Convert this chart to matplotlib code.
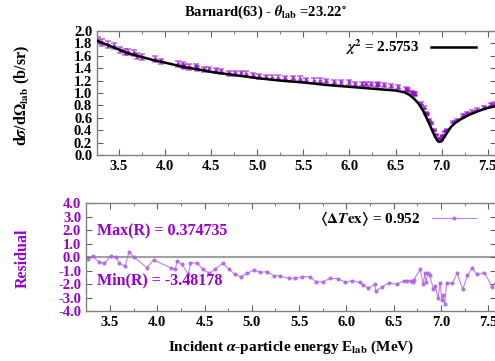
import matplotlib
matplotlib.use('Agg')
import matplotlib.pyplot as plt
from matplotlib.ticker import MultipleLocator

plt.rcParams['font.family'] = ['Liberation Serif', 'DejaVu Serif']
plt.rcParams['font.weight'] = 'bold'
plt.rcParams['mathtext.fontset'] = 'stix'

# fit curve (black line)
fit_e = [3.25, 3.4, 3.5, 3.6, 3.75, 3.9, 4.0, 4.2, 4.4, 4.5, 4.75, 5.0, 5.25, 5.5,
         5.75, 6.0, 6.25, 6.5, 6.6, 6.65, 6.7, 6.75, 6.8, 6.85, 6.9, 6.93, 6.96,
         6.98, 7.0, 7.03, 7.06, 7.1, 7.15, 7.2, 7.3, 7.4, 7.5, 7.6]
fit_xs = [1.85, 1.76, 1.70, 1.64, 1.58, 1.52, 1.49, 1.42, 1.37, 1.34, 1.29, 1.24, 1.20, 1.17,
          1.13, 1.10, 1.07, 1.04, 1.01, 0.97, 0.91, 0.83, 0.71, 0.56, 0.39, 0.29, 0.22,
          0.21, 0.23, 0.29, 0.36, 0.45, 0.52, 0.57, 0.65, 0.71, 0.76, 0.79]

# measured points
energy = [3.27, 3.32, 3.38, 3.44, 3.51, 3.56, 3.60, 3.66, 3.70, 3.75, 3.89, 3.96, 4.14, 4.19,
          4.21, 4.26, 4.33, 4.35, 4.42, 4.48, 4.55, 4.61, 4.69, 4.76, 4.82, 4.88, 4.95, 5.02,
          5.09, 5.16, 5.23, 5.30, 5.39, 5.46, 5.53, 5.61, 5.68, 5.75, 5.83, 5.91, 5.99, 6.06,
          6.14, 6.18, 6.23, 6.30, 6.31, 6.38, 6.45, 6.53, 6.61, 6.64, 6.68, 6.70, 6.71, 6.78,
          6.81, 6.83, 6.84, 6.86, 6.88, 6.92, 6.94, 6.97, 6.99, 7.01, 7.02, 7.04, 7.06, 7.12,
          7.17, 7.23, 7.28, 7.33, 7.38, 7.46, 7.54, 7.58]
xsec = [1.85, 1.81, 1.78, 1.76, 1.69, 1.66, 1.66, 1.64, 1.59, 1.58, 1.55, 1.51, 1.47, 1.45,
        1.43, 1.42, 1.43, 1.40, 1.38, 1.38, 1.37, 1.35, 1.32, 1.32, 1.32, 1.31, 1.29, 1.27,
        1.26, 1.25, 1.25, 1.24, 1.24, 1.23, 1.21, 1.20, 1.20, 1.19, 1.18, 1.17, 1.17, 1.15,
        1.15, 1.15, 1.15, 1.13, 1.15, 1.13, 1.11, 1.10, 1.07, 1.05, 1.01, 0.99, 0.98, 0.83,
        0.76, 0.68, 0.66, 0.57, 0.52, 0.40, 0.33, 0.27, 0.25, 0.30, 0.32, 0.38, 0.41, 0.53,
        0.57, 0.64, 0.67, 0.70, 0.73, 0.77, 0.82, 0.83]
rel_err = 0.03
residual = [-0.17, 0.05, -0.35, -0.47, 0.07, 0.03, -0.47, -0.67, 0.374735, 0.02, -0.79, -0.22,
            -0.79, -0.89, -0.30, -0.54, -1.28, -0.47, -0.42, -0.91, -1.21, -0.91, -0.47, -0.91,
            -1.28, -1.46, -1.21, -0.96, -1.13, -1.09, -1.38, -1.41, -1.58, -1.58, -1.46, -1.46,
            -1.83, -1.83, -1.58, -1.60, -1.88, -1.75, -1.88, -2.07, -2.32, -2.02, -2.52, -2.20,
            -1.90, -2.02, -1.75, -1.75, -1.75, -1.83, -1.70, -0.91, -2.00, -1.21, -1.83, -1.21,
            -1.33, -2.40, -2.15, -3.07, -1.90, -3.20, -2.83, -3.48178, -1.95, -1.95, -1.21,
            -2.40, -1.33, -0.84, -1.28, -1.16, -2.20, -1.90]

purple = '#9400d3'
fig = plt.figure(figsize=(4.95, 3.61), dpi=100)
ax1 = fig.add_axes([0.196, 0.5706, 0.806, 0.3435])
ax2 = fig.add_axes([0.1737, 0.1385, 0.828, 0.299])

yerr = [v * rel_err for v in xsec]
ax1.errorbar(energy, xsec, yerr=yerr, fmt='o', ms=2, color=purple, alpha=0.55,
             elinewidth=1.2, capsize=2, capthick=1.2, zorder=2)
ax1.plot(fit_e, fit_xs, color='black', lw=1.8, zorder=3, label=r'$\chi^2$ = 2.5753')
ax1.set_xlim(3.261, 7.59)
ax1.set_ylim(0, 2.0)
ax1.yaxis.set_major_locator(MultipleLocator(0.2))
ax1.legend(loc='upper right', frameon=False, fontsize=11, handlelength=2.9,
           markerfirst=False, borderaxespad=0.2, bbox_to_anchor=(0.972, 1.02))

ax2.plot(energy, residual, color='#b060e8', lw=0.8, marker='o', ms=2, alpha=0.8,
         label=r'$\langle\Delta T\mathbf{ex}\rangle$ = 0.952')
ax2.axhline(0, color='#a0a0a0', lw=1.5, zorder=0)
ax2.set_xlim(3.246, 7.58)
ax2.set_ylim(-4, 4)
ax2.yaxis.set_major_locator(MultipleLocator(1.0))
ax2.set_xlabel(r'Incident $\alpha$-particle energy E$_{\mathbf{lab}}$ (MeV)', fontsize=11,
               fontweight='bold', labelpad=7)
ax2.text(0.027, 0.74, 'Max(R) = 0.374735', transform=ax2.transAxes, color=purple,
         fontsize=11.5, fontweight='bold', va='center')
ax2.text(0.027, 0.28, 'Min(R) = -3.48178', transform=ax2.transAxes, color=purple,
         fontsize=11.5, fontweight='bold', va='center')
ax2.legend(loc='upper right', frameon=False, fontsize=11, handlelength=2.9, numpoints=1,
           markerfirst=False, borderaxespad=0.2, bbox_to_anchor=(0.975, 1.02))
ax2.yaxis.set_major_formatter(plt.FormatStrFormatter('%.1f'))
ax1.yaxis.set_major_formatter(plt.FormatStrFormatter('%.1f'))

for ax in (ax1, ax2):
    ax.xaxis.set_major_locator(MultipleLocator(0.5))
    ax.xaxis.set_minor_locator(MultipleLocator(0.25))
    ax.xaxis.set_major_formatter(plt.FormatStrFormatter('%.1f'))
    ax.tick_params(direction='in', top=True, right=True, which='both', labelsize=10.5,
                   color='#606060')
    ax.tick_params(which='major', length=4)
    ax.tick_params(which='minor', length=2)
    for s in ax.spines.values():
        s.set_color('#808080')
        s.set_linewidth(1.0)
    for lab in ax.get_xticklabels() + ax.get_yticklabels():
        lab.set_fontweight('bold')
for lab in ax2.get_yticklabels():
    lab.set_color(purple)

# y labels placed far left, as in the reference
fig.text(0.045, 0.737, r'd$\sigma$/d$\Omega_{\mathbf{lab}}$ (b/sr)', rotation=90,
         ha='center', va='center', fontsize=11.5, fontweight='bold')
fig.text(0.045, 0.285, 'Residual', rotation=90, ha='center', va='center',
         fontsize=11.5, fontweight='bold', color=purple)

fig.text(0.535, 0.965, r'Barnard(63) - $\theta_{\mathbf{lab}}$ =23.22$^{\circ}$',
         ha='center', va='center', fontsize=10.5, fontweight='bold')

fig.savefig('out.png', dpi=100)
